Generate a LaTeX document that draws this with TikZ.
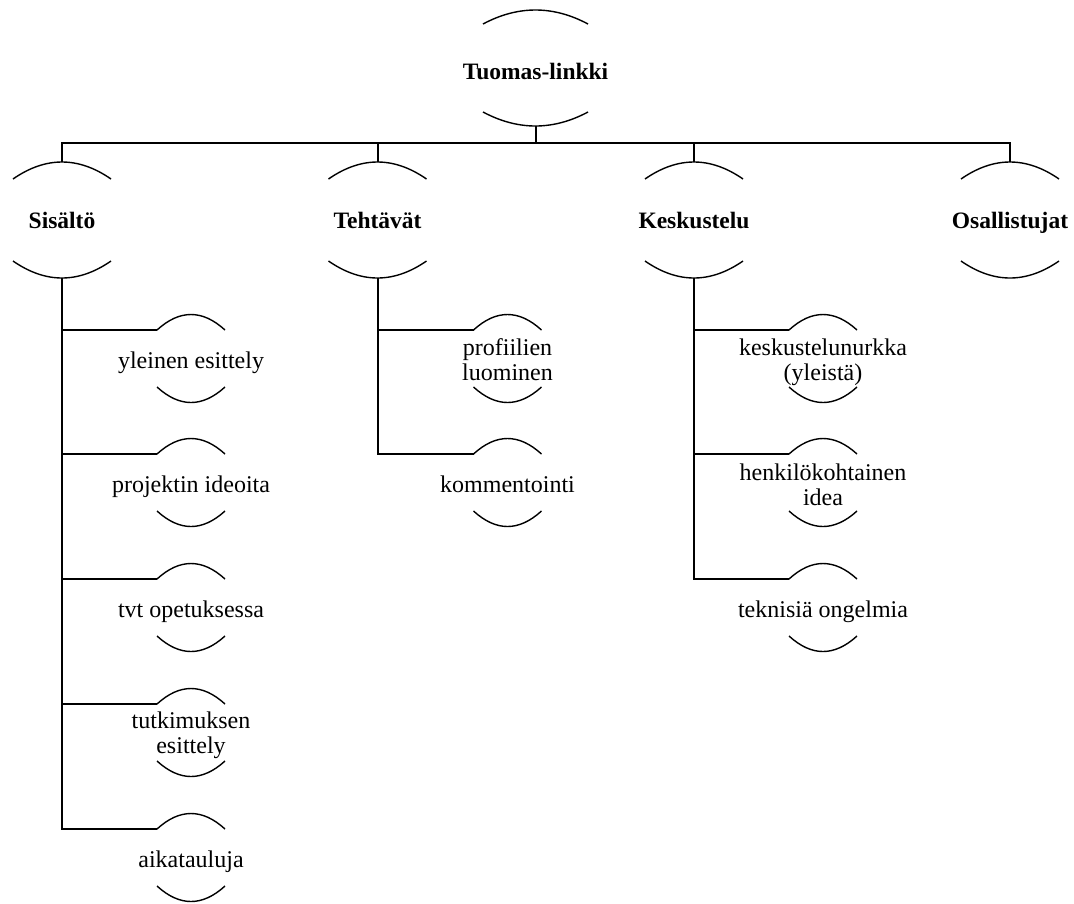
\documentclass[tikz,border=0pt]{standalone}
\usepackage{fontspec}
\setmainfont{Liberation Serif}
\begin{document}
\begin{tikzpicture}[x=1pt,y=-1pt,
  arcline/.style={line width=1.4pt},
  conn/.style={line width=2pt},
  bigtext/.style={font=\fontsize{23.5}{26}\selectfont\bfseries, inner sep=0pt, anchor=base},
  smalltext/.style={font=\fontsize{24}{25}\selectfont, inner sep=0pt, anchor=base},
  smalltwo/.style={font=\fontsize{24}{25}\selectfont, inner sep=0pt, align=center}]
\useasboundingbox (0,0) rectangle (1074,903);
% #1 name, #2 cx, #3 text y, #4 top-end y, #5 bottom-end y, #6 half width, #7 sag, #8 style, #9 text
\newcommand\arcnode[9]{%
  \node[#8] (#1) at (#2,#3) {#9};
  \coordinate (#1-top) at (#2,#4-#7);
  \coordinate (#1-bot) at (#2,#5+#7);
  \coordinate (#1-left) at (#2-#6,#4);
  \draw[arcline] (#2-#6,#4) .. controls (#2-#6/3,#4-4*#7/3) and (#2+#6/3,#4-4*#7/3) .. (#2+#6,#4);
  \draw[arcline] (#2-#6,#5) .. controls (#2-#6/3,#5+4*#7/3) and (#2+#6/3,#5+4*#7/3) .. (#2+#6,#5);
}
% root
\arcnode{root}{535.5}{79}{24}{112}{52.5}{14}{bigtext}{Tuomas-linkki}
% top level
\arcnode{sis}{62}{228}{179}{261}{49}{17}{bigtext}{Sisältö}
\arcnode{teh}{377.5}{228}{179}{261}{49}{17}{bigtext}{Tehtävät}
\arcnode{kes}{694}{228}{179}{261}{49}{17}{bigtext}{Keskustelu}
\arcnode{osa}{1010}{228}{179}{261}{49}{17}{bigtext}{Osallistujat}
% children of Sisältö
\arcnode{s1}{191}{368}{330}{387}{34}{15.5}{smalltext}{yleinen esittely}
\arcnode{s2}{191}{492}{454}{511}{34}{15.5}{smalltext}{projektin ideoita}
\arcnode{s3}{191}{617}{579}{636}{34}{15.5}{smalltext}{tvt opetuksessa}
\arcnode{s4}{191}{735}{704}{761}{34}{15.5}{smalltwo}{tutkimuksen\\esittely}
\arcnode{s5}{191}{867}{829}{886}{34}{15.5}{smalltext}{aikatauluja}
% children of Tehtävät
\arcnode{t1}{507.5}{360}{330}{387}{34}{15.5}{smalltwo}{profiilien\\luominen}
\arcnode{t2}{507.5}{492}{454}{511}{34}{15.5}{smalltext}{kommentointi}
% children of Keskustelu
\arcnode{k1}{823}{362}{330}{387}{34}{15.5}{smalltwo}{keskustelunurkka\\(yleistä)}
\arcnode{k2}{823}{485}{454}{511}{34}{15.5}{smalltwo}{henkilökohtainen\\idea}
\arcnode{k3}{823}{617}{579}{636}{34}{15.5}{smalltext}{teknisiä ongelmia}
% connectors
\coordinate (bus) at (535.5,143);
\draw[conn] (root-bot) -- (bus);
\draw[conn] (sis-top) -- (sis-top |- bus) -- (osa-top |- bus) -- (osa-top);
\draw[conn] (teh-top) -- (teh-top |- bus);
\draw[conn] (kes-top) -- (kes-top |- bus);
\draw[conn] (sis-bot) -- (sis-bot |- s5-left) -- (s5-left);
\draw[conn] (sis-bot |- s1-left) -- (s1-left);
\draw[conn] (sis-bot |- s2-left) -- (s2-left);
\draw[conn] (sis-bot |- s3-left) -- (s3-left);
\draw[conn] (sis-bot |- s4-left) -- (s4-left);
\draw[conn] (teh-bot) -- (teh-bot |- t2-left) -- (t2-left);
\draw[conn] (teh-bot |- t1-left) -- (t1-left);
\draw[conn] (kes-bot) -- (kes-bot |- k3-left) -- (k3-left);
\draw[conn] (kes-bot |- k1-left) -- (k1-left);
\draw[conn] (kes-bot |- k2-left) -- (k2-left);
\end{tikzpicture}
\end{document}
